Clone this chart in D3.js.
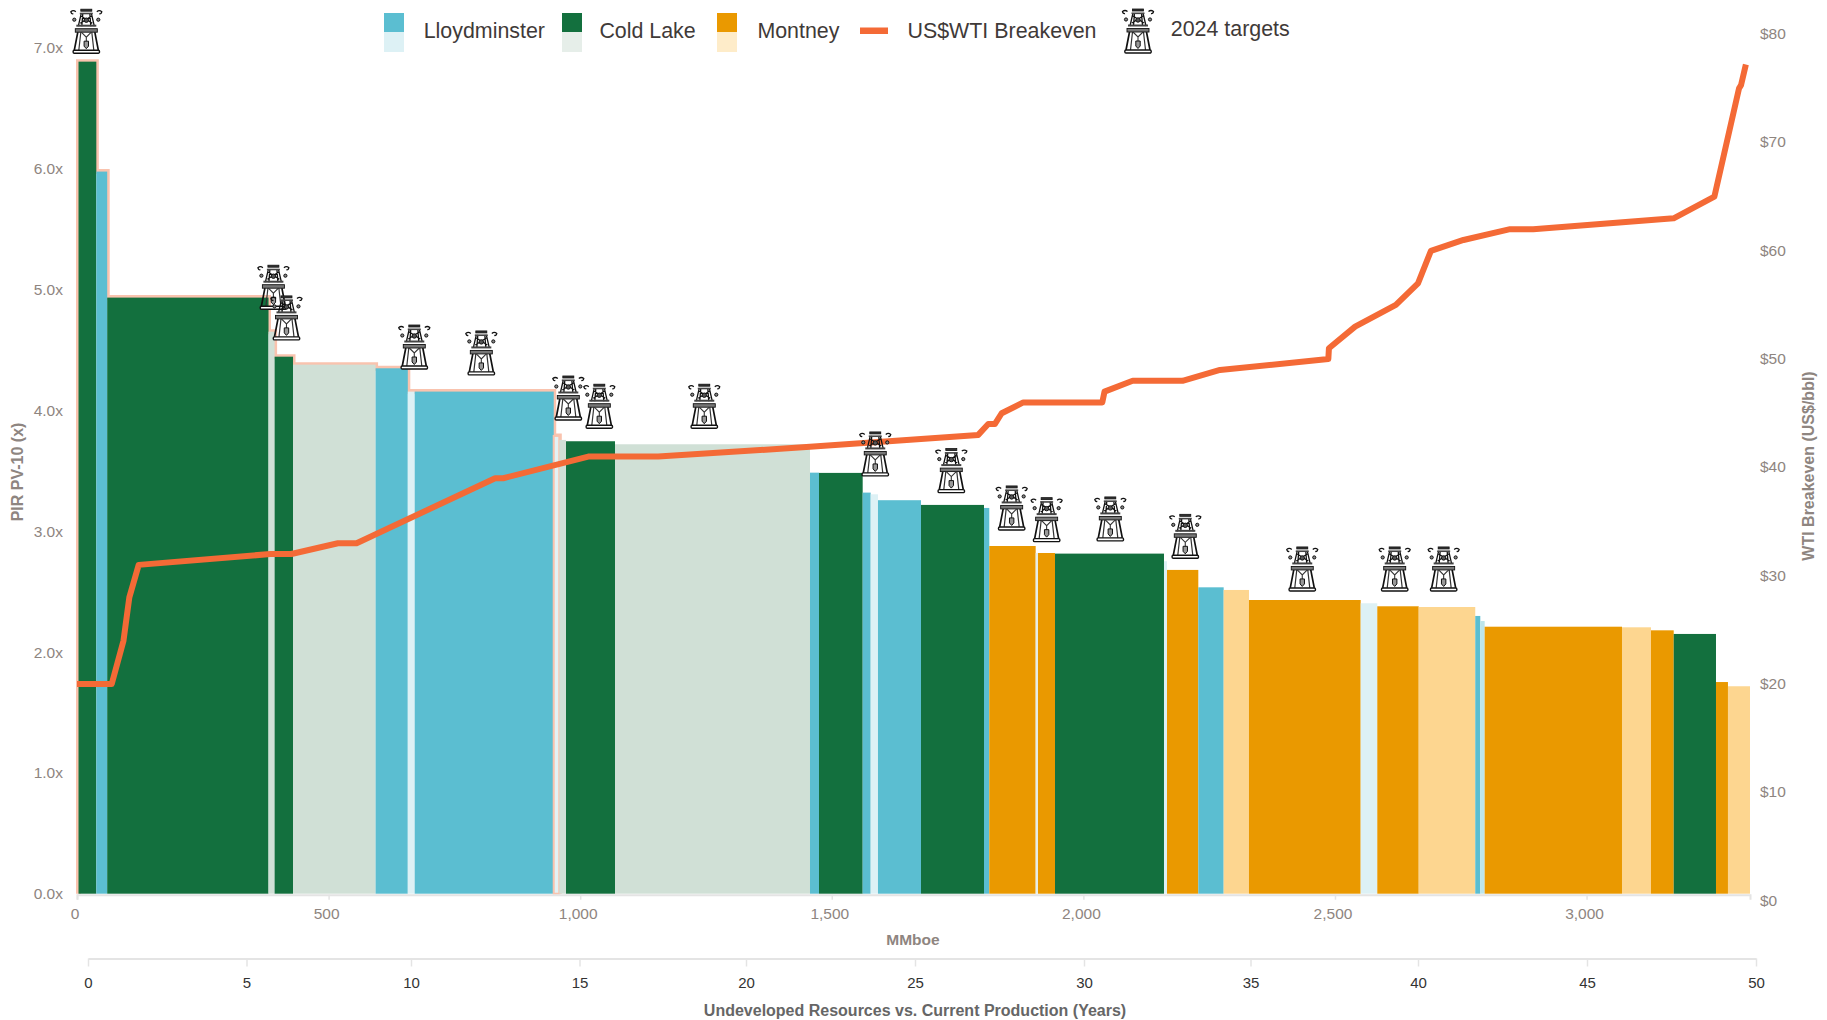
<!DOCTYPE html>
<html>
<head>
<meta charset="utf-8">
<script src="https://cdn.jsdelivr.net/npm/d3@7/dist/d3.min.js"></script>
<style>
html,body{margin:0;padding:0;background:#fff;}
svg{display:block;font-family:"Liberation Sans",Arial,sans-serif;}
</style>
</head>
<body>
<svg id="chart" width="1827" height="1020"></svg>
<script>
// Bar edges (cumulative MMboe): one more entry than the bars
const barEdges = [3,38.4,60,380.6,392.7,429.3,593.4,657.4,671.1,947.4,958.5,971.8,1069.2,1456.7,1474.6,1561.4,1577.3,1591.8,1677.3,1802.5,1813,1905.2,1909.8,1943.6,2160.2,2166.2,2228.4,2278.8,2329.1,2551.1,2584.1,2666.4,2778.8,2788.8,2797.5,3070.4,3128,3173.2,3257.2,3281,3324.8];
// PIR PV-10 multiple for each bar
const barPir = [6.887,5.977,4.934,4.652,4.445,4.379,4.349,4.156,4.156,3.789,3.756,3.745,3.72,3.485,3.483,3.32,3.306,3.257,3.218,3.193,2.878,2.82,2.82,2.815,2.752,2.68,2.536,2.514,2.431,2.404,2.379,2.373,2.299,2.257,2.21,2.205,2.18,2.15,1.752,1.717];
// L = Lloydminster, C = Cold Lake, M = Montney
const barRegion = ["C","L","C","C","C","C","L","L","L","L","C","C","C","L","C","L","L","L","C","L","M","C","M","C","L","M","L","M","M","L","M","M","L","L","M","M","M","C","M","M"];
// 0 = solid, 1 = light tint, 2 = palest tint / 3 = mid tint
const barTier = [0,0,0,1,0,1,0,1,0,2,1,0,1,0,0,0,1,0,0,0,0,2,0,0,1,0,0,1,0,1,0,1,0,3,0,1,0,0,0,1];
const regionColors = {
  L:["#5bbed1","#ddf1f5","#e3f2f5","#bde5ec"],
  C:["#13703e","#d0e0d6","#e6eee9","#d0e0d6"],
  M:["#ea9900","#fdd690","#feecc9","#fdd690"]
};
// The pale outline runs along the first bars only
const outlinedBars = 10;

const wtiX = [0,69,92.4,104,122.6,384,426,518.5,555.6,831,847,1016,1155,1456.7,1791,1811,1824,1837.6,1880.6,2037.6,2042,2098,2197,2271.5,2486.8,2488,2540,2621,2665,2690.7,2755.4,2848,2894,3173,3254,3303,3307,3316.6];
const wtiY = [20,20,24,28,31,32,32,33,33,39,39,41,41,41.9,43,44,44,45,46,46,47,48,48,49,50,51,53,55,57,60,61,62,62,63,65,75,75.3,77.2];

const targetX = [18.5,390.3,416.3,670.3,803.5,976.4,1038,1246.6,1586.4,1737.5,1857.5,1927,2053.5,2202.5,2435,2618.7,2716];
const targetPir = [6.957,4.838,4.584,4.343,4.294,3.921,3.853,3.853,3.458,3.32,3.011,2.914,2.92,2.776,2.506,2.506,2.506];

const xTicks = [0,500,1000,1500,2000,2500,3000];
const pirTicks = [0,1,2,3,4,5,6,7];
const wtiTicks = [0,10,20,30,40,50,60,70,80];
const yearTicks = [0,5,10,15,20,25,30,35,40,45,50];
const yearPositions = [88,246.5,411,579.5,746,915,1084,1250.5,1418,1587,1756];

const legendNames = ["Lloydminster","Cold Lake","Montney"];
const legendKeys = ["L","C","M"];
const legendPale = ["#ddf1f5","#e6eee9","#feecc9"];
const legendSwatchX = [384,562,717];
const legendTextX = [423.7,599.4,757.4];

const svg = d3.select("#chart");
const x = d3.scaleLinear().domain([0,3324.8]).range([77,1750]);
const yL = d3.scaleLinear().domain([0,7]).range([893.7,48]);
const yR = d3.scaleLinear().domain([0,80]).range([900.6,34.2]);
const yrs = d3.scaleLinear().domain(yearTicks).range(yearPositions);

const TICK = "#8e8580", GRID = "#e4e4e4";

// Pale outline beneath the first bars
let outline = [[barEdges[0],0]];
for (let i=0;i<outlinedBars;i++){
  outline.push([barEdges[i],barPir[i]]);
  outline.push([barEdges[i+1],barPir[i]]);
}
outline.push([barEdges[outlinedBars],0]);
svg.append("path")
  .attr("d",d3.line().x(d=>x(d[0])).y(d=>yL(d[1]))(outline))
  .attr("fill","none").attr("stroke","#f9c3ae").attr("stroke-width",5).attr("stroke-linejoin","miter");

// Bars
svg.append("g").selectAll("rect").data(barPir).join("rect")
  .attr("x",(d,i)=>x(barEdges[i]))
  .attr("width",(d,i)=>x(barEdges[i+1])-x(barEdges[i]))
  .attr("y",d=>yL(d))
  .attr("height",d=>yL(0)-yL(d))
  .attr("fill",(d,i)=>regionColors[barRegion[i]][barTier[i]])
  .attr("stroke",(d,i)=>i===outlinedBars-1?"#f9c3ae":"none")
  .attr("stroke-width",(d,i)=>i===outlinedBars-1?2:0);

// Primary x axis
const xAxis = svg.append("g").attr("transform",`translate(0,${yL(0)+1})`)
  .call(d3.axisBottom(x).tickValues(xTicks).tickSize(5).tickFormat(d3.format(",")));
xAxis.select(".domain").attr("stroke",GRID).attr("stroke-width",2);
xAxis.selectAll(".tick line").attr("stroke",GRID).attr("stroke-width",1.5);
xAxis.selectAll("text").attr("fill",TICK).attr("font-size",15.5).attr("y",13).attr("dx",-2.5)
  .attr("font-family","'Liberation Sans',Arial,sans-serif");

// Left axis
const lAxis = svg.append("g").attr("transform","translate(65,0)")
  .call(d3.axisLeft(yL).tickValues(pirTicks).tickSize(0).tickFormat(d=>d.toFixed(1)+"x"));
lAxis.select(".domain").remove();
lAxis.selectAll("text").attr("fill",TICK).attr("font-size",15.5).attr("x",-2)
  .attr("font-family","'Liberation Sans',Arial,sans-serif");

// Right axis
const rAxis = svg.append("g").attr("transform","translate(1760,-0.5)")
  .call(d3.axisRight(yR).tickValues(wtiTicks).tickSize(0).tickFormat(d=>"$"+d));
rAxis.select(".domain").remove();
rAxis.selectAll("text").attr("fill",TICK).attr("font-size",15.5).attr("x",0)
  .attr("font-family","'Liberation Sans',Arial,sans-serif");

// Years axis
const yAxis = svg.append("g").attr("transform","translate(0,958.5)")
  .call(d3.axisBottom(yrs).tickValues(yearTicks).tickSize(8).tickSizeOuter(0).tickFormat(d=>d));
yAxis.select(".domain").attr("stroke",GRID).attr("stroke-width",2.2);
yAxis.selectAll(".tick line").attr("stroke",GRID).attr("stroke-width",1.5);
yAxis.selectAll("text").attr("fill","#333").attr("font-size",15).attr("y",18.5)
  .attr("font-family","'Liberation Sans',Arial,sans-serif");

// Axis titles
svg.append("text").attr("x",913).attr("y",945).attr("text-anchor","middle")
  .attr("font-size",15.5).attr("font-weight","bold").attr("fill",TICK).text("MMboe");
svg.append("text").attr("x",915).attr("y",1016).attr("text-anchor","middle")
  .attr("font-size",16).attr("font-weight","bold").attr("fill","#666").text("Undeveloped Resources vs. Current Production (Years)");
svg.append("text").attr("transform","translate(22.5,472) rotate(-90)").attr("text-anchor","middle")
  .attr("font-size",16).attr("font-weight","bold").attr("fill",TICK).text("PIR PV-10 (x)");
svg.append("text").attr("transform","translate(1813.5,466) rotate(-90)").attr("text-anchor","middle")
  .attr("font-size",16).attr("font-weight","bold").attr("fill",TICK).text("WTI Breakeven (US$/bbl)");

// WTI line
svg.append("path")
  .attr("d",d3.line().x((d,i)=>x(wtiX[i])).y(d=>yR(d))(wtiY))
  .attr("fill","none").attr("stroke","#f46a36").attr("stroke-width",6)
  .attr("stroke-linejoin","round").attr("stroke-linecap","butt");

// Derrick icon, anchored at the bottom centre of its base
function derrick(g){
  const K="#111", W="#fff";
  // legs
  g.append("path").attr("d","M-12,-3 L-8.5,-21 M12,-3 L8.5,-21").attr("stroke",K).attr("stroke-width",1.7).attr("fill","none");
  g.append("path").attr("d","M-7.5,-3 L-5.5,-21 M7.5,-3 L5.5,-21").attr("stroke","#333").attr("stroke-width",1.2).attr("fill","none");
  // upper tower with lattice
  g.append("path").attr("d","M-8,-27 L-5,-40 M8,-27 L5,-40 M-4.5,-27 L-3.5,-40 M4.5,-27 L3.5,-40 M-6,-30 L5,-37 M6,-30 L-5,-37").attr("stroke",K).attr("stroke-width",1.3).attr("fill","none");
  g.append("circle").attr("cx",0).attr("cy",-33).attr("r",2.2).attr("fill","#555").attr("stroke",K).attr("stroke-width",1);
  // crown
  g.append("rect").attr("x",-5.5).attr("y",-44).attr("width",11).attr("height",2).attr("fill","#333").attr("stroke",K).attr("stroke-width",.8);
  g.append("rect").attr("x",-6.5).attr("y",-40.5).attr("width",13).attr("height",1.6).attr("fill","#444");
  // platform
  g.append("rect").attr("x",-10).attr("y",-28.5).attr("width",20).attr("height",2).attr("fill","#444");
  g.append("rect").attr("x",-11).attr("y",-24.5).attr("width",22).attr("height",3.5).attr("fill","#777").attr("stroke",K).attr("stroke-width",.9);
  // pump
  g.append("path").attr("d","M-5,-21 L0,-16 L5,-21 M0,-16 L0,-12").attr("stroke","#333").attr("stroke-width",1.1).attr("fill","none");
  g.append("path").attr("d","M-2.2,-12 L2.2,-12 L2.2,-7 L0,-4.5 L-2.2,-7 Z").attr("fill","#999").attr("stroke",K).attr("stroke-width",1);
  // base
  g.append("rect").attr("x",-13.2).attr("y",-3).attr("width",26.4).attr("height",3).attr("rx",1.2).attr("fill",W).attr("stroke",K).attr("stroke-width",1.4);
  // spray
  [-1,1].forEach(s=>{
    g.append("circle").attr("cx",s*12).attr("cy",-33.5).attr("r",1.6).attr("fill","#888").attr("stroke",K).attr("stroke-width",1);
    g.append("path").attr("d",`M${s*10.5},-41.5 Q${s*13},-43.5 ${s*15.5},-41.5 Q${s*15},-39 ${s*13},-39.5`).attr("fill","none").attr("stroke",K).attr("stroke-width",1.3);
  });
}
svg.append("g").selectAll("g").data(targetX).join("g")
  .attr("transform",(d,i)=>`translate(${x(d)},${yL(targetPir[i])})`)
  .each(function(){ derrick(d3.select(this)); });

// Legend
const lg = svg.append("g");
legendNames.forEach((n,i)=>{
  lg.append("rect").attr("x",legendSwatchX[i]).attr("y",13).attr("width",20).attr("height",19).attr("fill",regionColors[legendKeys[i]][0]);
  lg.append("rect").attr("x",legendSwatchX[i]).attr("y",32).attr("width",20).attr("height",20).attr("fill",legendPale[i]);
  lg.append("text").attr("x",legendTextX[i]).attr("y",38).attr("font-size",21.4).attr("fill","#3f3a38").text(n);
});
lg.append("rect").attr("x",860).attr("y",27.5).attr("width",28).attr("height",6.5).attr("fill","#f46a36");
lg.append("text").attr("x",907.5).attr("y",38).attr("font-size",21.4).attr("fill","#3f3a38").text("US$WTI Breakeven");
lg.append("g").attr("transform","translate(1138,53)").each(function(){ derrick(d3.select(this)); });
lg.append("text").attr("x",1170.8).attr("y",35.5).attr("font-size",21.4).attr("fill","#3f3a38").text("2024 targets");
</script>
</body>
</html>
